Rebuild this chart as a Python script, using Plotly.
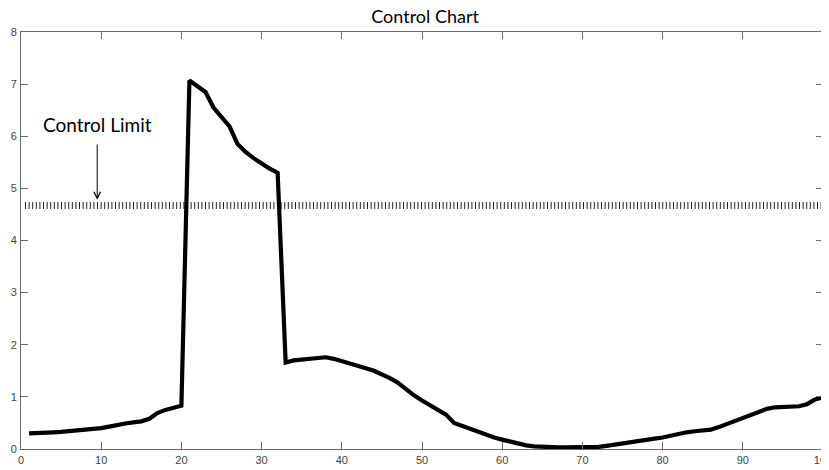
import plotly.graph_objects as go

x_vals = list(range(1, 101))
y_vals = [
    0.30, 0.30, 0.31, 0.32, 0.33, 0.34, 0.35, 0.36, 0.38, 0.40,
    0.43, 0.47, 0.49, 0.51, 0.53, 0.58, 0.69, 0.75, 0.79, 0.83,
    7.07, 6.95, 6.85, 6.55, 6.38, 6.19, 5.85, 5.70, 5.58, 5.47,
    5.38, 5.30, 1.66, 1.70, 1.72, 1.74, 1.76, 1.76, 1.73, 1.69,
    1.65, 1.60, 1.55, 1.50, 1.44, 1.36, 1.27, 1.14, 1.03, 0.93,
    0.84, 0.76, 0.66, 0.50, 0.44, 0.39, 0.34, 0.28, 0.22, 0.18,
    0.14, 0.10, 0.07, 0.05, 0.04, 0.03, 0.03, 0.03, 0.03, 0.03,
    0.03, 0.04, 0.06, 0.08, 0.10, 0.12, 0.14, 0.17, 0.20, 0.22,
    0.26, 0.30, 0.32, 0.34, 0.35, 0.37, 0.42, 0.48, 0.54, 0.58,
    0.66, 0.72, 0.77, 0.80, 0.81, 0.81, 0.82, 0.86, 0.95, 0.99,
]
control_limit = 4.67
limit_x = [0.5, 99.75]
arrow_x = 9.5
arrow_tip_y = 4.78
arrow_tail_y = 5.87
x_ticks = [0, 10, 20, 30, 40, 50, 60, 70, 80, 90, 100]
y_ticks = [0, 1, 2, 3, 4, 5, 6, 7, 8]

fig = go.Figure()
fig.add_trace(go.Scatter(
    x=limit_x, y=[control_limit] * len(limit_x), mode="lines",
    line=dict(color="#222222", width=7, dash="1px,2.6px"),
    hoverinfo="skip", showlegend=False,
))
fig.add_trace(go.Scatter(
    x=x_vals, y=y_vals, mode="lines",
    line=dict(color="black", width=4.2),
    showlegend=False,
))

fig.add_annotation(
    x=arrow_x, y=arrow_tip_y, ax=arrow_x, ay=arrow_tail_y,
    xref="x", yref="y", axref="x", ayref="y",
    showarrow=True, arrowhead=5, arrowsize=1.3, arrowwidth=1, arrowcolor="black",
    text="",
)
fig.add_annotation(
    x=arrow_x, y=6.22, xref="x", yref="y", text="Control Limit",
    showarrow=False, font=dict(family="Lato, Open Sans, sans-serif", size=19, color="black"),
)

axis_common = dict(
    showline=True, linecolor="#6a6a6a", linewidth=1, mirror="ticks",
    ticks="inside", ticklen=7, tickcolor="#6a6a6a", tickwidth=1,
    showgrid=False, zeroline=False, automargin=False, ticklabeloverflow="allow",
    tickfont=dict(family="Liberation Sans Narrow, Arial Narrow, sans-serif", size=11, color="#444444"),
)

fig.update_layout(
    width=821, height=462,
    margin=dict(l=13, r=6, t=24, b=21),
    paper_bgcolor="white", plot_bgcolor="white",
    title=dict(text="Control Chart", x=0.508, xanchor="center", y=0.981, yanchor="middle",
               automargin=False,
               font=dict(family="Lato, Open Sans, sans-serif", size=18, color="black")),
    xaxis=dict(range=[0, 100], tickvals=x_ticks, ticklabelstandoff=1, **axis_common),
    yaxis=dict(range=[0, 8], tickvals=y_ticks, ticklabelstandoff=1, **axis_common),
)

fig.write_html("out.html")
